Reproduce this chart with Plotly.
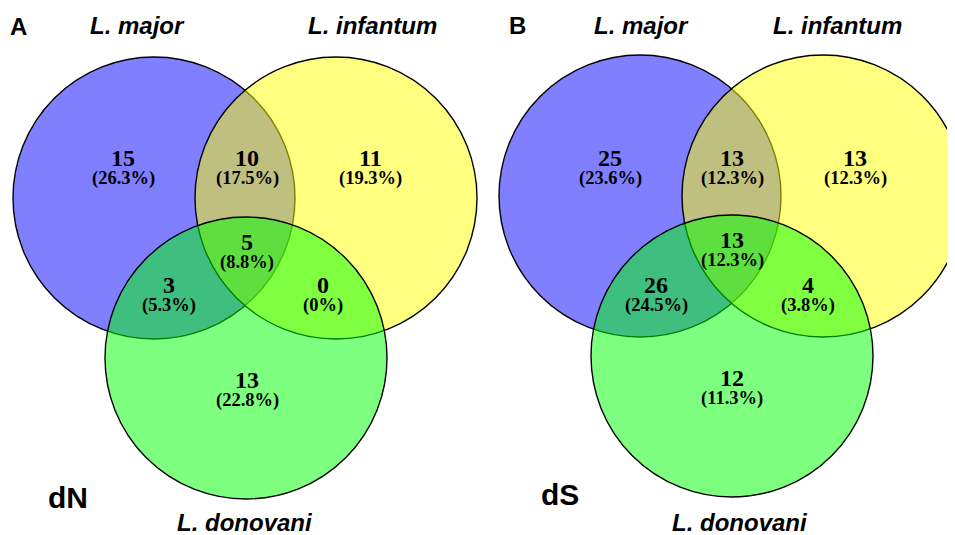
import plotly.graph_objects as go

# ---------------- data ----------------
regions = ["major_only", "major_infantum", "infantum_only", "all_three",
           "major_donovani", "infantum_donovani", "donovani_only"]
dN_counts = [15, 10, 11, 5, 3, 0, 13]
dN_pct = ["(26.3%)", "(17.5%)", "(19.3%)", "(8.8%)", "(5.3%)", "(0%)", "(22.8%)"]
dS_counts = [25, 13, 13, 13, 26, 4, 12]
dS_pct = ["(23.6%)", "(12.3%)", "(12.3%)", "(12.3%)", "(24.5%)", "(3.8%)", "(11.3%)"]
set_names = ["L. major", "L. infantum", "L. donovani"]
panel_letters = ["A", "B"]
panel_titles = ["dN", "dS"]

# ---------------- layout geometry (pixel space of the page) ----------------
PAGE_W, PAGE_H = 955, 535
OFF = 8  # page body margin
R = 141
panels = [
    dict(letter=panel_letters[0], title=panel_titles[0], counts=dN_counts, pct=dN_pct,
         centers=[(154, 198), (336, 198), (246, 358)],
         region_xy=[(123, 158), (247, 158), (370, 158), (247, 242),
                    (169, 285), (323, 285), (247, 380)],
         letter_xy=(18, 26), names_xy=[(137, 25), (372, 25), (245, 522)],
         title_xy=(68, 497)),
    dict(letter=panel_letters[1], title=panel_titles[1], counts=dS_counts, pct=dS_pct,
         centers=[(640, 196), (823, 196), (732, 356)],
         region_xy=[(610, 158), (732, 158), (855, 158), (732, 240),
                    (656, 285), (808, 285), (732, 378)],
         letter_xy=(517, 25), names_xy=[(641, 25), (837, 25), (740, 522)],
         title_xy=(560, 494)),
]
fills = ["rgba(0,0,255,0.5)", "rgba(255,255,0,0.5)", "rgba(0,255,0,0.5)"]

fig = go.Figure()
fig.add_trace(go.Scatter(x=[OFF, PAGE_W], y=[OFF, PAGE_H], mode="markers",
                         marker=dict(opacity=0), hoverinfo="skip", showlegend=False))

shapes = []
annotations = []
serif = "Liberation Serif, Times New Roman, serif"
sans = "Liberation Sans, Arial, sans-serif"
for p in panels:
    for (cx, cy), fc in zip(p["centers"], fills):
        shapes.append(dict(type="circle", xref="x", yref="y",
                           x0=cx - R, x1=cx + R, y0=cy - R, y1=cy + R,
                           fillcolor=fc, line=dict(color="black", width=1.4),
                           layer="above"))
    for (x, y), c, pc in zip(p["region_xy"], p["counts"], p["pct"]):
        annotations.append(dict(x=x, y=y, xref="x", yref="y", text=str(c), showarrow=False,
                                font=dict(family=serif, size=24, color="black", weight="bold"),
                                xanchor="center", yanchor="middle"))
        annotations.append(dict(x=x, y=y + 20, xref="x", yref="y", text=pc, showarrow=False,
                                font=dict(family=serif, size=18.5, color="black", weight="bold"),
                                xanchor="center", yanchor="middle"))
    lx, ly = p["letter_xy"]
    annotations.append(dict(x=lx, y=ly, xref="x", yref="y", text=p["letter"], showarrow=False,
                            font=dict(family=sans, size=24, color="black", weight="bold"),
                            xanchor="center", yanchor="middle"))
    for (nx, ny), nm in zip(p["names_xy"], set_names):
        annotations.append(dict(x=nx, y=ny, xref="x", yref="y", text=nm, showarrow=False,
                                font=dict(family=sans, size=24, color="black",
                                          weight="bold", style="italic"),
                                xanchor="center", yanchor="middle"))
    tx, ty = p["title_xy"]
    annotations.append(dict(x=tx, y=ty, xref="x", yref="y", text=p["title"], showarrow=False,
                            font=dict(family=sans, size=30, color="black", weight="bold"),
                            xanchor="center", yanchor="middle"))

fig.update_layout(
    width=PAGE_W - OFF, height=PAGE_H - OFF, autosize=False,
    margin=dict(l=0, r=0, t=0, b=0),
    paper_bgcolor="white", plot_bgcolor="white",
    xaxis=dict(range=[OFF, PAGE_W], visible=False, fixedrange=True),
    yaxis=dict(range=[PAGE_H, OFF], visible=False, fixedrange=True),
    shapes=shapes, annotations=annotations, showlegend=False,
)
fig.write_html("out.html", config={"displayModeBar": False})
